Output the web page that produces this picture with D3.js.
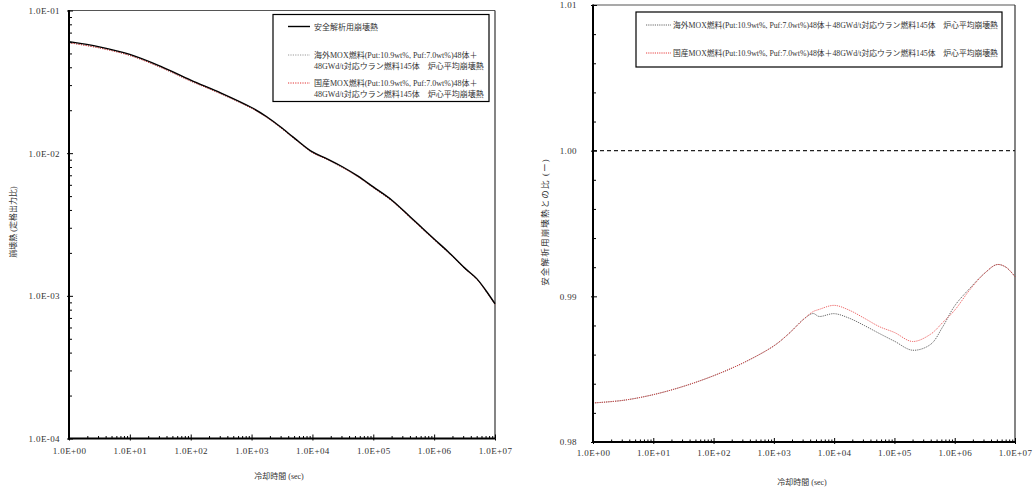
<!DOCTYPE html>
<html>
<head>
<meta charset="utf-8">
<script src="https://cdn.jsdelivr.net/npm/d3@7/dist/d3.min.js"></script>
<style>
  html, body { margin: 0; padding: 0; background: #fff; }
  svg { display: block; }
  .num { font-family: "Liberation Serif", "DejaVu Serif", serif; font-size: 9px; fill: #333; letter-spacing: 0.4px; }
  .jp { font-family: "Liberation Serif", "Noto Sans CJK JP", serif; fill: #333; }
</style>
</head>
<body>
<svg id="chart" width="1036" height="490"></svg>
<script>
// ---------- data ----------
const times = [1, 3.16, 10, 31.6, 100, 316, 1000, 1780, 3160, 4470, 5620, 10000, 17800, 31600,
  56200, 100000, 200000, 398000, 631000, 1000000, 1780000, 3160000, 5010000, 7080000, 10000000];

// decay heat (fraction of rated power)
const safetyHeat = [0.0605, 0.0556, 0.0492, 0.0407, 0.0325, 0.0264, 0.0209, 0.0180, 0.0150, 0.0133,
  0.0123, 0.0102, 0.0091, 0.0080, 0.0069, 0.0058, 0.0047, 0.0036, 0.0030, 0.0025, 0.0020, 0.00157,
  0.00132, 0.00109, 0.00088];
const overseasHeat = [0.05945, 0.05465, 0.04838, 0.04004, 0.03200, 0.02602, 0.02062, 0.01777, 0.01483,
  0.01315, 0.01216, 0.01009, 0.00900, 0.00790, 0.00681, 0.00572, 0.00464, 0.00355, 0.00296, 0.00247,
  0.00198, 0.001557, 0.00131, 0.00108, 0.000872];
const domesticHeat = [0.05945, 0.05465, 0.04838, 0.04004, 0.03200, 0.02602, 0.02062, 0.01777, 0.01483,
  0.01315, 0.01217, 0.01009, 0.00900, 0.00791, 0.00682, 0.00573, 0.00464, 0.00355, 0.00296, 0.00247,
  0.00198, 0.001557, 0.00131, 0.00108, 0.000872];

// ratio to safety-analysis decay heat
const overseasRatio = [0.98268, 0.98286, 0.98325, 0.98382, 0.98455, 0.98545, 0.98660, 0.98745, 0.98845,
  0.98882, 0.98862, 0.98881, 0.98850, 0.98800, 0.98745, 0.98692, 0.98630, 0.98670, 0.98790, 0.98935,
  0.99055, 0.99160, 0.99218, 0.99200, 0.99135];
const domesticRatio = [0.98268, 0.98286, 0.98325, 0.98382, 0.98455, 0.98545, 0.98660, 0.98745, 0.98845,
  0.98895, 0.98910, 0.98938, 0.98905, 0.98850, 0.98792, 0.98752, 0.98690, 0.98740, 0.98820, 0.98905,
  0.99045, 0.99160, 0.99218, 0.99200, 0.99135];
const safetyRatio = [1.0, 1.0];
const safetyRatioTimes = [1, 10000000];

const xTickValues = [1, 10, 100, 1000, 10000, 100000, 1000000, 10000000];
const xTickLabels = ["1.0E+00", "1.0E+01", "1.0E+02", "1.0E+03", "1.0E+04", "1.0E+05", "1.0E+06", "1.0E+07"];
const leftYTickValues = [0.0001, 0.001, 0.01, 0.1];
const leftYTickLabels = ["1.0E-04", "1.0E-03", "1.0E-02", "1.0E-01"];
const rightYTickValues = [0.98, 0.99, 1.00, 1.01];
const rightYTickLabels = ["0.98", "0.99", "1.00", "1.01"];
const rightYMinorValues = [0.982, 0.984, 0.986, 0.988, 0.992, 0.994, 0.996, 0.998, 1.002, 1.004, 1.006, 1.008];

const legendSafety = "安全解析用崩壊熱";
const legendOverseas = ["海外MOX燃料(Put:10.9wt%, Puf:7.0wt%)48体＋", "48GWd/t対応ウラン燃料145体　炉心平均崩壊熱"];
const legendDomestic = ["国産MOX燃料(Put:10.9wt%, Puf:7.0wt%)48体＋", "48GWd/t対応ウラン燃料145体　炉心平均崩壊熱"];
const xTitle = "冷却時間 (sec)";
const leftYTitle = "崩壊熱 (定格出力比)";
const rightYTitle = "安全解析用崩壊熱との比 (ー)";

// ---------- drawing ----------
const svg = d3.select("#chart");

function minorLogValues(lo, hi) {
  const out = [];
  for (let d = lo; d < hi; d *= 10) for (let k = 2; k <= 9; k++) out.push(d * k);
  return out;
}
const xMinor = minorLogValues(1, 1e7);
const yMinorLeft = minorLogValues(1e-4, 1e-1);

function frame(g, x0, x1, y0, y1) {
  g.append("line").attr("x1", x0).attr("x2", x1).attr("y1", y0).attr("y2", y0)
    .attr("stroke", "#555").attr("stroke-width", 1.2);
  g.append("line").attr("x1", x1).attr("x2", x1).attr("y1", y0).attr("y2", y1)
    .attr("stroke", "#333").attr("stroke-width", 1.2);
}

function styleAxis(sel) {
  sel.select(".domain").remove();
  sel.selectAll(".tick line").attr("stroke", "#000").attr("stroke-width", 1);
  sel.selectAll(".tick text").attr("class", "num").attr("fill", "#333");
}

const smooth = d3.curveCatmullRom.alpha(0.5);

// ===== Left chart =====
const xL = d3.scaleLog().domain([1, 1e7]).range([69, 495]);
const yL = d3.scaleLog().domain([1e-4, 1e-1]).range([438.5, 10.5]);
const gL = svg.append("g");

frame(gL, 69, 495, 10.5, 438.5);

const lineL = d3.line().x(d => xL(d[0])).y(d => yL(d[1])).curve(smooth);
gL.append("path").datum(times.map((t, i) => [t, overseasHeat[i]]))
  .attr("d", lineL).attr("fill", "none").attr("stroke", "#999").attr("stroke-width", 1).attr("stroke-dasharray", "1.2,1.2");
gL.append("path").datum(times.map((t, i) => [t, domesticHeat[i]]))
  .attr("d", lineL).attr("fill", "none").attr("stroke", "#e23030").attr("stroke-width", 1).attr("stroke-dasharray", "1.2,1.2");
gL.append("path").datum(times.map((t, i) => [t, safetyHeat[i]]))
  .attr("d", lineL).attr("fill", "none").attr("stroke", "#000").attr("stroke-width", 1.4);

// axes
gL.append("g").attr("transform", "translate(0,438.5)")
  .call(d3.axisBottom(xL).tickValues(xTickValues).tickFormat((d, i) => xTickLabels[i]).tickSize(2).tickPadding(7))
  .call(styleAxis);
gL.append("g").attr("transform", "translate(0,438.5)")
  .call(d3.axisBottom(xL).tickValues(xMinor).tickFormat("").tickSize(-2.5)).call(styleAxis);
gL.append("g").attr("transform", "translate(0,438.5)")
  .call(d3.axisBottom(xL).tickValues(xTickValues).tickFormat("").tickSize(-4)).call(styleAxis);
gL.append("g").attr("transform", "translate(69,0)")
  .call(d3.axisLeft(yL).tickValues(leftYTickValues).tickFormat((d, i) => leftYTickLabels[i]).tickSize(2).tickPadding(7))
  .call(styleAxis);
gL.append("g").attr("transform", "translate(69,0)")
  .call(d3.axisLeft(yL).tickValues(yMinorLeft).tickFormat("").tickSize(-3)).call(styleAxis);
gL.append("g").attr("transform", "translate(69,0)")
  .call(d3.axisLeft(yL).tickValues(leftYTickValues).tickFormat("").tickSize(-4)).call(styleAxis);
gL.append("line").attr("x1", 69).attr("x2", 69).attr("y1", 10).attr("y2", 439.5).attr("stroke", "#000").attr("stroke-width", 2);
gL.append("line").attr("x1", 68).attr("x2", 495.5).attr("y1", 438.5).attr("y2", 438.5).attr("stroke", "#000").attr("stroke-width", 2);

// titles
gL.append("text").attr("class", "jp").attr("font-size", 8).attr("text-anchor", "middle")
  .attr("x", 279).attr("y", 479).text(xTitle);
gL.append("text").attr("class", "jp").attr("font-size", 8).attr("text-anchor", "middle")
  .attr("transform", "translate(16,222) rotate(-90)").text(leftYTitle);

// legend
const lgL = gL.append("g");
lgL.append("rect").attr("x", 273).attr("y", 14.5).attr("width", 216).attr("height", 87)
  .attr("fill", "#fff").attr("stroke", "#000").attr("stroke-width", 1.2);
lgL.append("line").attr("x1", 288).attr("x2", 310).attr("y1", 26.5).attr("y2", 26.5).attr("stroke", "#000").attr("stroke-width", 1.4);
lgL.append("text").attr("class", "jp").attr("font-size", 8).attr("x", 314).attr("y", 29.5).text(legendSafety);
lgL.append("line").attr("x1", 288).attr("x2", 310).attr("y1", 55).attr("y2", 55).attr("stroke", "#999").attr("stroke-dasharray", "1.2,1.2");
lgL.append("text").attr("class", "jp").attr("font-size", 8).attr("x", 314).attr("y", 58).text(legendOverseas[0]);
lgL.append("text").attr("class", "jp").attr("font-size", 8).attr("x", 314).attr("y", 69).text(legendOverseas[1]);
lgL.append("line").attr("x1", 288).attr("x2", 310).attr("y1", 83).attr("y2", 83).attr("stroke", "#e23030").attr("stroke-dasharray", "1.2,1.2");
lgL.append("text").attr("class", "jp").attr("font-size", 8).attr("x", 314).attr("y", 86).text(legendDomestic[0]);
lgL.append("text").attr("class", "jp").attr("font-size", 8).attr("x", 314).attr("y", 97).text(legendDomestic[1]);

// ===== Right chart =====
const xR = d3.scaleLog().domain([1, 1e7]).range([593, 1015]);
const yR = d3.scaleLinear().domain([0.98, 1.01]).range([442, 5]);
const gR = svg.append("g");

frame(gR, 593, 1015, 5, 442);

const lineR = d3.line().x(d => xR(d[0])).y(d => yR(d[1])).curve(smooth);
gR.append("path").datum(safetyRatioTimes.map((t, i) => [t, safetyRatio[i]]))
  .attr("d", lineR).attr("fill", "none").attr("stroke", "#222").attr("stroke-width", 1.2).attr("stroke-dasharray", "4,3");
gR.append("path").datum(times.map((t, i) => [t, overseasRatio[i]]))
  .attr("d", lineR).attr("fill", "none").attr("stroke", "#666").attr("stroke-width", 1).attr("stroke-dasharray", "1.2,1");
gR.append("path").datum(times.map((t, i) => [t, domesticRatio[i]]))
  .attr("d", lineR).attr("fill", "none").attr("stroke", "#e84040").attr("stroke-width", 1).attr("stroke-dasharray", "1.2,1").attr("opacity", 0.8);

gR.append("g").attr("transform", "translate(0,442)")
  .call(d3.axisBottom(xR).tickValues(xTickValues).tickFormat((d, i) => xTickLabels[i]).tickSize(2).tickPadding(6))
  .call(styleAxis);
gR.append("g").attr("transform", "translate(0,442)")
  .call(d3.axisBottom(xR).tickValues(xMinor).tickFormat("").tickSize(-2.5)).call(styleAxis);
gR.append("g").attr("transform", "translate(0,442)")
  .call(d3.axisBottom(xR).tickValues(xTickValues).tickFormat("").tickSize(-4)).call(styleAxis);
gR.append("g").attr("transform", "translate(593,0)")
  .call(d3.axisLeft(yR).tickValues(rightYTickValues).tickFormat((d, i) => rightYTickLabels[i]).tickSize(2).tickPadding(14))
  .call(styleAxis);
gR.append("g").attr("transform", "translate(593,0)")
  .call(d3.axisLeft(yR).tickValues(rightYMinorValues).tickFormat("").tickSize(-3)).call(styleAxis);
gR.append("g").attr("transform", "translate(593,0)")
  .call(d3.axisLeft(yR).tickValues(rightYTickValues).tickFormat("").tickSize(-4)).call(styleAxis);
gR.append("line").attr("x1", 593).attr("x2", 593).attr("y1", 4.5).attr("y2", 443).attr("stroke", "#000").attr("stroke-width", 2);
gR.append("line").attr("x1", 592).attr("x2", 1015.5).attr("y1", 442).attr("y2", 442).attr("stroke", "#000").attr("stroke-width", 2);

gR.append("text").attr("class", "jp").attr("font-size", 8).attr("text-anchor", "middle")
  .attr("x", 802).attr("y", 485).text(xTitle);
gR.append("text").attr("class", "jp").attr("font-size", 8.5).attr("text-anchor", "middle").attr("letter-spacing", 1.2)
  .attr("transform", "translate(548,222) rotate(-90)").text(rightYTitle);

const lgR = gR.append("g");
lgR.append("rect").attr("x", 636).attr("y", 12).attr("width", 366).attr("height", 55)
  .attr("fill", "#fff").attr("stroke", "#000").attr("stroke-width", 1.2);
lgR.append("line").attr("x1", 646).attr("x2", 671).attr("y1", 25).attr("y2", 25).attr("stroke", "#666").attr("stroke-dasharray", "1.2,1");
lgR.append("text").attr("class", "jp").attr("font-size", 7.8).attr("x", 673).attr("y", 28).text(legendOverseas[0] + legendOverseas[1]);
lgR.append("line").attr("x1", 646).attr("x2", 671).attr("y1", 53).attr("y2", 53).attr("stroke", "#e84040").attr("stroke-dasharray", "1.2,1");
lgR.append("text").attr("class", "jp").attr("font-size", 7.8).attr("x", 673).attr("y", 56).text(legendDomestic[0] + legendDomestic[1]);
</script>
</body>
</html>
